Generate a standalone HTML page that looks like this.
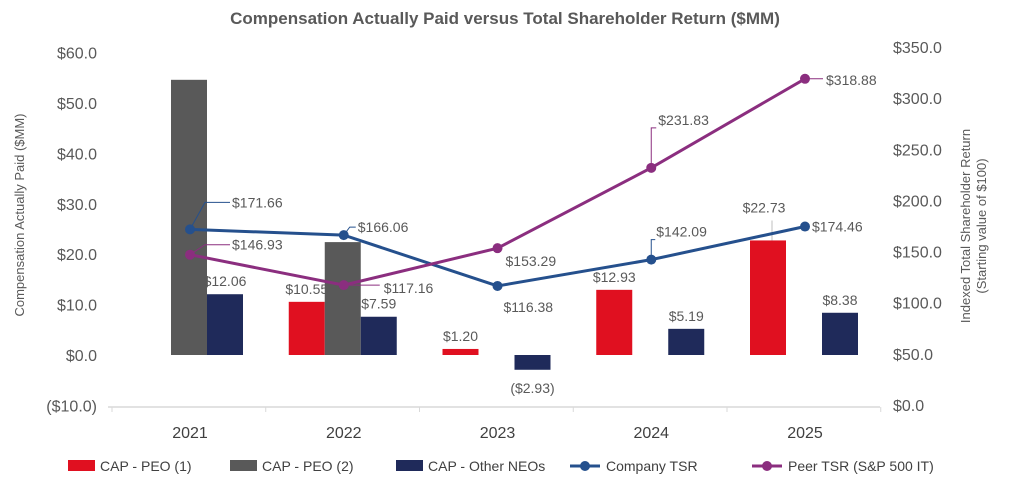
<!DOCTYPE html>
<html><head><meta charset="utf-8"><style>
body{margin:0;background:#fff;}
svg{display:block;font-family:"Liberation Sans",Arial,sans-serif;}
</style></head><body>
<svg id="c" width="1010" height="488">
<text x="505" y="24" text-anchor="middle" font-size="17" font-weight="bold" fill="#595959">Compensation Actually Paid versus Total Shareholder Return ($MM)</text>
<text transform="translate(24,215) rotate(-90)" text-anchor="middle" font-size="13" fill="#595959">Compensation Actually Paid ($MM)</text>
<text transform="translate(970,226) rotate(-90)" text-anchor="middle" font-size="13" fill="#595959"><tspan x="0" dy="0">Indexed Total Shareholder Return</tspan><tspan x="0" dy="16">(Starting value of $100)</tspan></text>
<g id="g"></g>
</svg>
<script>
const years=["2021","2022","2023","2024","2025"];
const capPeo1=[null,10.55,1.20,12.93,22.73];
const capPeo2=[54.6,22.4,null,null,null];
const capNeo=[12.06,7.59,-2.93,5.19,8.38];
const companyTsr=[171.66,166.06,116.38,142.09,174.46];
const peerTsr=[146.93,117.16,153.29,231.83,318.88];
const leftTicks=[-10,0,10,20,30,40,50,60];
const rightTicks=[0,50,100,150,200,250,300,350];

const NS="http://www.w3.org/2000/svg";
const g=document.getElementById('g');
function el(t,a,txt){const e=document.createElementNS(NS,t);for(const k in a)e.setAttribute(k,a[k]);if(txt!=null)e.textContent=txt;g.appendChild(e);return e;}
const yL=v=>355-v*5.04;
const yR=v=>405-v*1.023;
const xC=i=>190+i*153.75;
const fmt=v=>v<0?"($"+Math.abs(v).toFixed(2)+")":"$"+v.toFixed(2);

leftTicks.forEach(t=>{const e=el('text',{x:97,y:yL(t)+6,'text-anchor':'end','font-size':16,fill:'#595959'},t<0?"($"+Math.abs(t).toFixed(1)+")":"$"+t.toFixed(1));
});
rightTicks.forEach(t=>{const e=el('text',{x:893,y:yR(t)+6,'font-size':16,fill:'#595959'},"$"+t.toFixed(1));
});
const ax=el('line',{x1:108,x2:880,y1:407,y2:407,stroke:'#d9d9d9','stroke-width':1.5});

for(let i=0;i<=5;i++){const tk=el('line',{x1:112+i*153.75,x2:112+i*153.75,y1:407,y2:412,stroke:'#d9d9d9'});}
years.forEach((y,i)=>{const e=el('text',{x:xC(i),y:438,'text-anchor':'middle','font-size':16,fill:'#404040'},y);});

const series=[[capPeo1,'#e01020',-55,'bar-cap-peo1'],[capPeo2,'#595959',-19,'bar-cap-peo2'],[capNeo,'#1f2a5a',17,'bar-cap-neo']];
series.forEach(([arr,col,off,nm],si)=>{arr.forEach((v,i)=>{if(v==null)return;
const y0=yL(0),y1=yL(v);
const r=el('rect',{x:xC(i)+off,y:Math.min(y0,y1),width:36,height:Math.abs(y1-y0),fill:col});

if(si!==1){let ly=v>=0?y1-8:y0+Math.abs(y1-y0)+23;let lx=xC(i)+off+18;
if(si===0&&i===4){ly=y1-28;lx=lx-4;const ll=el('line',{x1:lx+8,x2:lx+8,y1:y1,y2:y1-20,stroke:'#bfbfbf','stroke-width':1});}
const t=el('text',{x:lx,y:ly,'text-anchor':'middle','font-size':14,fill:'#595959'},fmt(v));
}
});});

function line(arr,col,nm,labOff){
const pts=arr.map((v,i)=>[xC(i),yR(v)]);
const p=el('polyline',{points:pts.map(p=>p.join(',')).join(' '),fill:'none',stroke:col,'stroke-width':3});

pts.forEach((q,i)=>{const c=el('circle',{cx:q[0],cy:q[1],r:5,fill:col});
const o=labOff[i]||[8,5];
if(o[2]){const l=el('polyline',{points:`${q[0]},${q[1]} ${q[0]+o[2][0]},${q[1]+o[2][1]} ${q[0]+o[2][2]},${q[1]+o[2][1]}`,fill:'none',stroke:col,'stroke-width':1});}
const t=el('text',{x:q[0]+o[0],y:q[1]+o[1],'font-size':14,fill:'#595959'},fmt(arr[i]));
});
}
line(companyTsr,'#25508d','company-tsr',[[42,-22,[15,-27,40]],[14,-3,[6,-8,12]],[6,26],[5,-23,[0,-20,4]],[7,5]]);
line(peerTsr,'#8b2e7f','peer-tsr',[[42,-5,[15,-10,40]],[40,8,[0,0,36]],[8,18],[7,-43,[0,-40,5]],[21,6,[0,0,18]]]);
</script>
<script>
(function(){
const items=[['rect','#e01020','CAP - PEO (1)',68],['rect','#595959','CAP - PEO (2)',230],['rect','#1f2a5a','CAP - Other NEOs',396],['line','#25508d','Company TSR',570],['line','#8b2e7f','Peer TSR (S&P 500 IT)',752]];
const g=document.getElementById('g');const NS="http://www.w3.org/2000/svg";
items.forEach(([k,c,t,x])=>{const gg=document.createElementNS(NS,'g');

let s;
if(k==='rect'){s=`<rect x="${x}" y="460" width="27" height="11" fill="${c}"/><text x="${x+32}" y="471" font-size="14" fill="#404040">${t}</text>`;}
else{s=`<line x1="${x}" x2="${x+30}" y1="466" y2="466" stroke="${c}" stroke-width="3"/><circle cx="${x+15}" cy="466" r="5" fill="${c}"/><text x="${x+36}" y="471" font-size="14" fill="#404040">${t.replace('&','&amp;')}</text>`;}
gg.innerHTML=s;g.appendChild(gg);});
})();
</script>
</body></html>
